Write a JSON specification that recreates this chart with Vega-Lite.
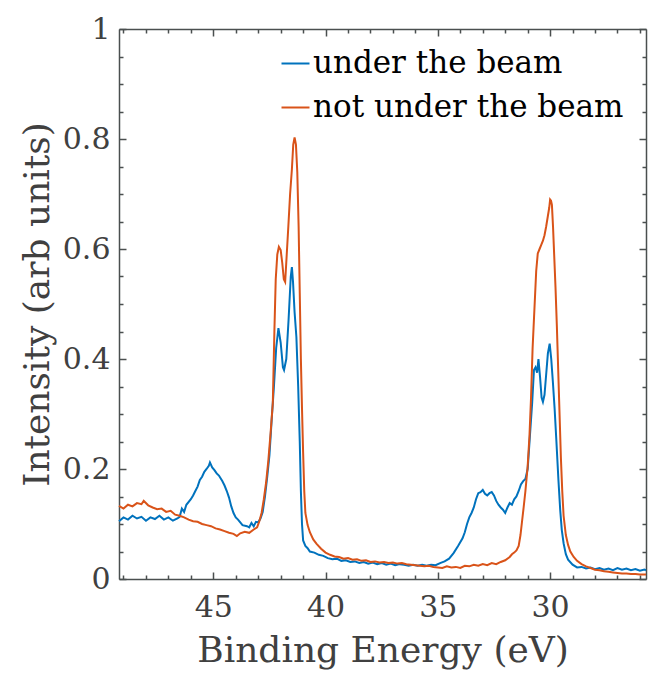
{
  "$schema": "https://vega.github.io/schema/vega-lite/v6.json",
  "width": 527,
  "height": 550,
  "autosize": "none",
  "padding": {"left": 119, "top": 29, "right": 4, "bottom": 100},
  "background": "white",
  "datasets": {
    "under": [
      {"energy":49.2,"intensity":0.105},{"energy":49.0,"intensity":0.112},{"energy":48.8,"intensity":0.108},{"energy":48.6,"intensity":0.115},{"energy":48.4,"intensity":0.110},{"energy":48.2,"intensity":0.113},{"energy":48.0,"intensity":0.106},{"energy":47.8,"intensity":0.112},{"energy":47.6,"intensity":0.109},{"energy":47.4,"intensity":0.115},{"energy":47.2,"intensity":0.108},{"energy":47.0,"intensity":0.112},{"energy":46.8,"intensity":0.106},{"energy":46.6,"intensity":0.110},{"energy":46.5,"intensity":0.113},{"energy":46.4,"intensity":0.128},{"energy":46.3,"intensity":0.122},{"energy":46.2,"intensity":0.135},{"energy":46.0,"intensity":0.145},{"energy":45.9,"intensity":0.152},{"energy":45.8,"intensity":0.160},{"energy":45.7,"intensity":0.168},{"energy":45.6,"intensity":0.180},{"energy":45.5,"intensity":0.186},{"energy":45.4,"intensity":0.195},{"energy":45.3,"intensity":0.200},{"energy":45.2,"intensity":0.206},{"energy":45.15,"intensity":0.212},{"energy":45.05,"intensity":0.203},{"energy":44.95,"intensity":0.198},{"energy":44.85,"intensity":0.192},{"energy":44.75,"intensity":0.188},{"energy":44.6,"intensity":0.178},{"energy":44.5,"intensity":0.170},{"energy":44.4,"intensity":0.160},{"energy":44.3,"intensity":0.148},{"energy":44.2,"intensity":0.132},{"energy":44.1,"intensity":0.120},{"energy":44.0,"intensity":0.112},{"energy":43.9,"intensity":0.108},{"energy":43.8,"intensity":0.103},{"energy":43.7,"intensity":0.098},{"energy":43.5,"intensity":0.096},{"energy":43.4,"intensity":0.094},{"energy":43.3,"intensity":0.102},{"energy":43.2,"intensity":0.096},{"energy":43.1,"intensity":0.104},{"energy":43.0,"intensity":0.103},{"energy":42.9,"intensity":0.110},{"energy":42.8,"intensity":0.122},{"energy":42.7,"intensity":0.150},{"energy":42.6,"intensity":0.185},{"energy":42.5,"intensity":0.225},{"energy":42.4,"intensity":0.290},{"energy":42.3,"intensity":0.350},{"energy":42.2,"intensity":0.420},{"energy":42.1,"intensity":0.456},{"energy":42.0,"intensity":0.430},{"energy":41.9,"intensity":0.385},{"energy":41.85,"intensity":0.380},{"energy":41.75,"intensity":0.400},{"energy":41.65,"intensity":0.470},{"energy":41.55,"intensity":0.550},{"energy":41.5,"intensity":0.567},{"energy":41.45,"intensity":0.540},{"energy":41.38,"intensity":0.485},{"energy":41.3,"intensity":0.440},{"energy":41.22,"intensity":0.350},{"energy":41.15,"intensity":0.250},{"energy":41.1,"intensity":0.160},{"energy":41.05,"intensity":0.100},{"energy":41.0,"intensity":0.070},{"energy":40.9,"intensity":0.060},{"energy":40.8,"intensity":0.056},{"energy":40.7,"intensity":0.050},{"energy":40.5,"intensity":0.048},{"energy":40.3,"intensity":0.044},{"energy":40.1,"intensity":0.042},{"energy":39.9,"intensity":0.038},{"energy":39.7,"intensity":0.036},{"energy":39.5,"intensity":0.037},{"energy":39.3,"intensity":0.033},{"energy":39.1,"intensity":0.034},{"energy":38.9,"intensity":0.031},{"energy":38.7,"intensity":0.032},{"energy":38.5,"intensity":0.029},{"energy":38.3,"intensity":0.031},{"energy":38.1,"intensity":0.028},{"energy":37.9,"intensity":0.030},{"energy":37.7,"intensity":0.027},{"energy":37.5,"intensity":0.029},{"energy":37.3,"intensity":0.026},{"energy":37.1,"intensity":0.028},{"energy":36.9,"intensity":0.025},{"energy":36.7,"intensity":0.027},{"energy":36.5,"intensity":0.026},{"energy":36.3,"intensity":0.024},{"energy":36.1,"intensity":0.026},{"energy":35.9,"intensity":0.024},{"energy":35.7,"intensity":0.026},{"energy":35.5,"intensity":0.024},{"energy":35.3,"intensity":0.026},{"energy":35.1,"intensity":0.025},{"energy":34.9,"intensity":0.029},{"energy":34.7,"intensity":0.032},{"energy":34.5,"intensity":0.037},{"energy":34.3,"intensity":0.047},{"energy":34.1,"intensity":0.060},{"energy":33.9,"intensity":0.074},{"energy":33.8,"intensity":0.085},{"energy":33.7,"intensity":0.100},{"energy":33.6,"intensity":0.112},{"energy":33.5,"intensity":0.120},{"energy":33.4,"intensity":0.130},{"energy":33.3,"intensity":0.145},{"energy":33.2,"intensity":0.156},{"energy":33.1,"intensity":0.158},{"energy":33.0,"intensity":0.162},{"energy":32.9,"intensity":0.155},{"energy":32.8,"intensity":0.152},{"energy":32.7,"intensity":0.156},{"energy":32.6,"intensity":0.158},{"energy":32.5,"intensity":0.152},{"energy":32.4,"intensity":0.142},{"energy":32.3,"intensity":0.135},{"energy":32.2,"intensity":0.130},{"energy":32.1,"intensity":0.126},{"energy":32.0,"intensity":0.120},{"energy":31.9,"intensity":0.130},{"energy":31.8,"intensity":0.138},{"energy":31.7,"intensity":0.135},{"energy":31.6,"intensity":0.145},{"energy":31.5,"intensity":0.150},{"energy":31.4,"intensity":0.160},{"energy":31.3,"intensity":0.172},{"energy":31.2,"intensity":0.178},{"energy":31.1,"intensity":0.182},{"energy":31.0,"intensity":0.200},{"energy":30.9,"intensity":0.260},{"energy":30.8,"intensity":0.320},{"energy":30.72,"intensity":0.380},{"energy":30.65,"intensity":0.385},{"energy":30.58,"intensity":0.375},{"energy":30.52,"intensity":0.400},{"energy":30.45,"intensity":0.368},{"energy":30.38,"intensity":0.330},{"energy":30.32,"intensity":0.322},{"energy":30.25,"intensity":0.335},{"energy":30.18,"intensity":0.370},{"energy":30.1,"intensity":0.410},{"energy":30.02,"intensity":0.428},{"energy":29.95,"intensity":0.400},{"energy":29.88,"intensity":0.360},{"energy":29.8,"intensity":0.310},{"energy":29.72,"intensity":0.250},{"energy":29.63,"intensity":0.180},{"energy":29.55,"intensity":0.125},{"energy":29.48,"intensity":0.089},{"energy":29.4,"intensity":0.065},{"energy":29.3,"intensity":0.045},{"energy":29.2,"intensity":0.035},{"energy":29.0,"intensity":0.026},{"energy":28.8,"intensity":0.021},{"energy":28.6,"intensity":0.022},{"energy":28.4,"intensity":0.019},{"energy":28.2,"intensity":0.021},{"energy":28.0,"intensity":0.018},{"energy":27.8,"intensity":0.020},{"energy":27.6,"intensity":0.017},{"energy":27.4,"intensity":0.019},{"energy":27.2,"intensity":0.016},{"energy":27.0,"intensity":0.020},{"energy":26.8,"intensity":0.017},{"energy":26.6,"intensity":0.019},{"energy":26.4,"intensity":0.016},{"energy":26.2,"intensity":0.018},{"energy":26.0,"intensity":0.015},{"energy":25.8,"intensity":0.017},{"energy":25.73,"intensity":0.016}
    ],
    "notunder": [
      {"energy":49.2,"intensity":0.133},{"energy":49.0,"intensity":0.128},{"energy":48.8,"intensity":0.135},{"energy":48.6,"intensity":0.132},{"energy":48.4,"intensity":0.138},{"energy":48.2,"intensity":0.136},{"energy":48.1,"intensity":0.142},{"energy":47.9,"intensity":0.134},{"energy":47.7,"intensity":0.130},{"energy":47.5,"intensity":0.127},{"energy":47.3,"intensity":0.128},{"energy":47.1,"intensity":0.122},{"energy":46.9,"intensity":0.124},{"energy":46.7,"intensity":0.117},{"energy":46.5,"intensity":0.115},{"energy":46.3,"intensity":0.112},{"energy":46.1,"intensity":0.108},{"energy":45.9,"intensity":0.105},{"energy":45.7,"intensity":0.104},{"energy":45.5,"intensity":0.100},{"energy":45.3,"intensity":0.098},{"energy":45.1,"intensity":0.096},{"energy":44.9,"intensity":0.092},{"energy":44.7,"intensity":0.090},{"energy":44.5,"intensity":0.087},{"energy":44.3,"intensity":0.084},{"energy":44.1,"intensity":0.082},{"energy":43.95,"intensity":0.078},{"energy":43.8,"intensity":0.083},{"energy":43.6,"intensity":0.086},{"energy":43.4,"intensity":0.084},{"energy":43.2,"intensity":0.090},{"energy":43.05,"intensity":0.094},{"energy":42.95,"intensity":0.105},{"energy":42.85,"intensity":0.120},{"energy":42.75,"intensity":0.145},{"energy":42.65,"intensity":0.175},{"energy":42.55,"intensity":0.215},{"energy":42.45,"intensity":0.265},{"energy":42.35,"intensity":0.320},{"energy":42.28,"intensity":0.450},{"energy":42.22,"intensity":0.545},{"energy":42.15,"intensity":0.590},{"energy":42.08,"intensity":0.604},{"energy":42.0,"intensity":0.598},{"energy":41.93,"intensity":0.575},{"energy":41.86,"intensity":0.545},{"energy":41.8,"intensity":0.540},{"energy":41.73,"intensity":0.590},{"energy":41.66,"intensity":0.640},{"energy":41.58,"intensity":0.700},{"energy":41.5,"intensity":0.745},{"energy":41.44,"intensity":0.790},{"energy":41.38,"intensity":0.803},{"energy":41.32,"intensity":0.790},{"energy":41.26,"intensity":0.740},{"energy":41.2,"intensity":0.640},{"energy":41.15,"intensity":0.520},{"energy":41.1,"intensity":0.400},{"energy":41.05,"intensity":0.310},{"energy":41.0,"intensity":0.230},{"energy":40.95,"intensity":0.160},{"energy":40.9,"intensity":0.120},{"energy":40.8,"intensity":0.098},{"energy":40.7,"intensity":0.085},{"energy":40.55,"intensity":0.072},{"energy":40.4,"intensity":0.064},{"energy":40.2,"intensity":0.055},{"energy":40.0,"intensity":0.048},{"energy":39.8,"intensity":0.044},{"energy":39.6,"intensity":0.041},{"energy":39.4,"intensity":0.040},{"energy":39.2,"intensity":0.037},{"energy":39.0,"intensity":0.038},{"energy":38.8,"intensity":0.035},{"energy":38.6,"intensity":0.036},{"energy":38.4,"intensity":0.033},{"energy":38.2,"intensity":0.034},{"energy":38.0,"intensity":0.031},{"energy":37.8,"intensity":0.032},{"energy":37.6,"intensity":0.030},{"energy":37.4,"intensity":0.031},{"energy":37.2,"intensity":0.029},{"energy":37.0,"intensity":0.030},{"energy":36.8,"intensity":0.028},{"energy":36.6,"intensity":0.029},{"energy":36.4,"intensity":0.027},{"energy":36.2,"intensity":0.026},{"energy":36.0,"intensity":0.025},{"energy":35.8,"intensity":0.024},{"energy":35.6,"intensity":0.023},{"energy":35.4,"intensity":0.024},{"energy":35.2,"intensity":0.022},{"energy":35.0,"intensity":0.021},{"energy":34.8,"intensity":0.020},{"energy":34.6,"intensity":0.023},{"energy":34.4,"intensity":0.021},{"energy":34.2,"intensity":0.022},{"energy":34.0,"intensity":0.020},{"energy":33.8,"intensity":0.024},{"energy":33.6,"intensity":0.023},{"energy":33.4,"intensity":0.026},{"energy":33.2,"intensity":0.024},{"energy":33.0,"intensity":0.027},{"energy":32.8,"intensity":0.025},{"energy":32.6,"intensity":0.029},{"energy":32.4,"intensity":0.027},{"energy":32.2,"intensity":0.031},{"energy":32.0,"intensity":0.034},{"energy":31.8,"intensity":0.040},{"energy":31.7,"intensity":0.045},{"energy":31.6,"intensity":0.048},{"energy":31.5,"intensity":0.052},{"energy":31.4,"intensity":0.060},{"energy":31.32,"intensity":0.080},{"energy":31.25,"intensity":0.105},{"energy":31.18,"intensity":0.130},{"energy":31.1,"intensity":0.160},{"energy":31.0,"intensity":0.205},{"energy":30.92,"intensity":0.260},{"energy":30.85,"intensity":0.330},{"energy":30.78,"intensity":0.420},{"energy":30.7,"intensity":0.490},{"energy":30.62,"intensity":0.560},{"energy":30.55,"intensity":0.592},{"energy":30.47,"intensity":0.600},{"energy":30.4,"intensity":0.607},{"energy":30.32,"intensity":0.615},{"energy":30.25,"intensity":0.625},{"energy":30.18,"intensity":0.640},{"energy":30.1,"intensity":0.660},{"energy":30.04,"intensity":0.675},{"energy":30.0,"intensity":0.690},{"energy":29.96,"intensity":0.688},{"energy":29.92,"intensity":0.680},{"energy":29.87,"intensity":0.640},{"energy":29.82,"intensity":0.590},{"energy":29.76,"intensity":0.530},{"energy":29.7,"intensity":0.460},{"energy":29.64,"intensity":0.380},{"energy":29.58,"intensity":0.300},{"energy":29.52,"intensity":0.220},{"energy":29.46,"intensity":0.160},{"energy":29.4,"intensity":0.115},{"energy":29.3,"intensity":0.080},{"energy":29.2,"intensity":0.062},{"energy":29.1,"intensity":0.050},{"energy":28.95,"intensity":0.040},{"energy":28.8,"intensity":0.033},{"energy":28.6,"intensity":0.027},{"energy":28.4,"intensity":0.023},{"energy":28.2,"intensity":0.020},{"energy":28.0,"intensity":0.017},{"energy":27.8,"intensity":0.016},{"energy":27.6,"intensity":0.014},{"energy":27.4,"intensity":0.013},{"energy":27.2,"intensity":0.012},{"energy":27.0,"intensity":0.011},{"energy":26.8,"intensity":0.010},{"energy":26.6,"intensity":0.010},{"energy":26.4,"intensity":0.009},{"energy":26.2,"intensity":0.009},{"energy":26.0,"intensity":0.008},{"energy":25.73,"intensity":0.008}
    ]
  },
  "encoding": {
    "color": {
      "datum": "under the beam",
      "type": "nominal",
      "scale": {"domain": ["under the beam", "not under the beam"], "range": ["#0072BD", "#D95319"]},
      "legend": {
        "orient": "none",
        "legendX": 161,
        "legendY": 19,
        "title": null,
        "symbolType": "stroke",
        "symbolSize": 784,
        "symbolStrokeWidth": 2,
        "labelFont": "DejaVu Serif",
        "labelFontSize": 31,
        "labelColor": "#000000",
        "labelOffset": 2,
        "rowPadding": 12,
        "padding": 0,
        "labelLimit": 0
      }
    }
  },
  "layer": [
    {
      "data": {"name": "under"},
      "mark": {"type": "line", "strokeWidth": 2},
      "encoding": {
        "color": {"datum": "under the beam", "type": "nominal"},
        "x": {
          "field": "energy", "type": "quantitative",
          "scale": {"domain": [25.73, 49.2], "reverse": true, "nice": false, "zero": false},
          "axis": {
            "orient": "bottom",
            "values": [26,27,28,29,30,31,32,33,34,35,36,37,38,39,40,41,42,43,44,45,46,47,48,49],
            "format": "~g",
            "labelExpr": "datum.value % 5 === 0 ? datum.label : ''",
            "tickSize": {"condition": {"test": "datum.value % 5 === 0", "value": -7}, "value": -4},
            "labelPadding": 20,
            "title": "Binding Energy (eV)",
            "titlePadding": 8
          }
        },
        "y": {
          "field": "intensity", "type": "quantitative",
          "scale": {"domain": [0, 1], "nice": false, "zero": false},
          "axis": {
            "orient": "left",
            "values": [0,0.05,0.1,0.15,0.2,0.25,0.3,0.35,0.4,0.45,0.5,0.55,0.6,0.65,0.7,0.75,0.8,0.85,0.9,0.95,1],
            "labelExpr": "abs(datum.value*5 - round(datum.value*5)) < 1e-6 ? format(datum.value, '~g') : ''",
            "tickSize": {"condition": {"test": "abs(datum.value*5 - round(datum.value*5)) < 1e-6", "value": -7}, "value": -4},
            "labelPadding": 16,
            "title": "Intensity (arb units)",
            "titlePadding": 6
          }
        }
      }
    },
    {
      "data": {"name": "notunder"},
      "mark": {"type": "line", "strokeWidth": 2},
      "encoding": {
        "color": {"datum": "not under the beam", "type": "nominal"},
        "x": {
          "field": "energy", "type": "quantitative",
          "scale": {"domain": [25.73, 49.2], "reverse": true, "nice": false, "zero": false},
          "axis": {
            "orient": "top",
            "values": [26,27,28,29,30,31,32,33,34,35,36,37,38,39,40,41,42,43,44,45,46,47,48,49],
            "labels": false,
            "tickSize": {"condition": {"test": "datum.value % 5 === 0", "value": -7}, "value": -4},
            "title": null
          }
        },
        "y": {
          "field": "intensity", "type": "quantitative",
          "scale": {"domain": [0, 1], "nice": false, "zero": false},
          "axis": {
            "orient": "right",
            "values": [0,0.05,0.1,0.15,0.2,0.25,0.3,0.35,0.4,0.45,0.5,0.55,0.6,0.65,0.7,0.75,0.8,0.85,0.9,0.95,1],
            "labels": false,
            "tickSize": {"condition": {"test": "abs(datum.value*5 - round(datum.value*5)) < 1e-6", "value": -7}, "value": -4},
            "title": null
          }
        }
      }
    }
  ],
  "resolve": {"axis": {"x": "independent", "y": "independent"}},
  "config": {
    "view": {"stroke": null},
    "font": "DejaVu Serif",
    "axis": {
      "labelFont": "DejaVu Serif",
      "titleFont": "DejaVu Serif",
      "labelFontSize": 30,
      "titleFontSize": 36,
      "titleFontWeight": "normal",
      "labelColor": "#404040",
      "titleColor": "#404040",
      "domainColor": "#4a4f4f",
      "tickColor": "#4a4f4f",
      "domainWidth": 1.5,
      "tickWidth": 1.5,
      "grid": false,
      "labelOverlap": false,
      "labelFlush": false
    }
  }
}
